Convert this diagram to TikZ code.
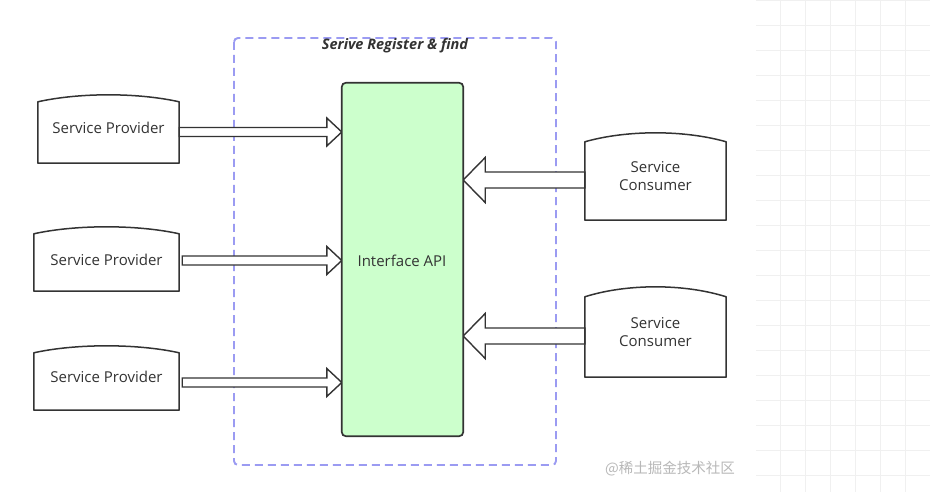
\documentclass[tikz,border=0pt]{standalone}
\usepackage{fontspec}
\setmainfont{Open Sans}
\newfontfamily\cjk{Noto Sans CJK SC}
\usetikzlibrary{calc}
\definecolor{ink}{HTML}{333333}
\definecolor{apifill}{HTML}{CCFFCC}
\definecolor{lav}{HTML}{9B9BF2}
\definecolor{gridc}{HTML}{F0F0F0}
\definecolor{wm}{HTML}{B8B8B8}
\tikzset{
  shp/.style={draw=ink, line width=1.5pt, fill=white, line join=round},
  lbl/.style={inner sep=0pt, text=ink, font=\fontsize{15}{18}\selectfont, align=center},
  holder/.style={inner sep=0pt},
  fatR/.style={draw=ink, line width=1.4pt, fill=white, line join=miter,
    to path={let \p1=(\tikztostart), \p2=(\tikztotarget) in
      (\x1,\y1+4.5pt) -- (\x2-15pt,\y1+4.5pt) -- (\x2-15pt,\y1+14pt) -- (\x2,\y1)
      -- (\x2-15pt,\y1-14pt) -- (\x2-15pt,\y1-4.5pt) -- (\x1,\y1-4.5pt) -- cycle}},
  fatL/.style={draw=ink, line width=1.4pt, fill=white, line join=miter,
    to path={let \p1=(\tikztostart), \p2=(\tikztotarget) in
      (\x1,\y1+8pt) -- (\x2+22pt,\y1+8pt) -- (\x2+22pt,\y1+22.5pt) -- (\x2,\y1)
      -- (\x2+22pt,\y1-22.5pt) -- (\x2+22pt,\y1-8pt) -- (\x1,\y1-8pt) -- cycle}},
}
\newcommand\cardshape[3]{% node, bulge (px), control half-offset
  \draw[shp] (#1.south west) -- ([yshift=-#2pt]#1.north west)
    .. controls +(#3,-1.33*#2) and +(-#3,-1.33*#2) .. ([yshift=-#2pt]#1.north east)
    -- (#1.south east) -- cycle;}
\begin{document}
\begin{tikzpicture}[x=1pt,y=-1pt]
\useasboundingbox (0,0) rectangle (930,492);
\fill[white] (0,0) rectangle (930,492);
% faint grid on the right
\foreach \gx in {780,805,...,930} \draw[gridc, line width=0.8pt] (\gx,0) -- (\gx,492);
\foreach \gy in {0,25,...,492} \draw[gridc, line width=0.8pt] (756,\gy) -- (930,\gy);
% register frame
\draw[lav, line width=1.9pt, dash pattern=on 8pt off 5pt, rounded corners=4pt]
  (234,38) rectangle (556,465);
\node[lbl, font=\fontsize{14.5}{16}\selectfont\bfseries\itshape] (title) at (395,46) {Serive Register \& find};
% shape holders
\node[holder, minimum width=141pt, minimum height=68pt] (p1) at (108.5,129) {};
\node[holder, minimum width=145pt, minimum height=64pt] (p2) at (106.5,259) {};
\node[holder, minimum width=145pt, minimum height=64pt] (p3) at (106.5,378) {};
\node[holder, minimum width=141pt, minimum height=87pt] (c1) at (655.5,176.5) {};
\node[holder, minimum width=141pt, minimum height=90pt] (c2) at (655.5,332) {};
\node[holder, minimum width=121pt, minimum height=353pt] (api) at (402.5,259.5) {};
% shapes
\cardshape{p1}{7}{42}
\cardshape{p2}{7}{42}
\cardshape{p3}{7}{42}
\cardshape{c1}{9}{42}
\cardshape{c2}{10}{42}
\node[lbl] (p1t) at (108.5,128) {Service Provider};
\node[lbl] (p2t) at (106.5,259.5) {Service Provider};
\node[lbl] (p3t) at (106.5,377) {Service Provider};
\node[lbl] (c1t) at (655.5,176) {Service\\Consumer};
\node[lbl] (c2t) at (655.5,332.5) {Service\\Consumer};
% arrows
\draw[fatR] ([yshift=-3pt]p1.east) to (api.west);
\draw[fatR] ([xshift=3pt,yshift=-1.5pt]p2.east) to (api.west);
\draw[fatR] ([xshift=3pt,yshift=-4.5pt]p3.east) to (api.west);
\draw[fatL] ([yshift=-3.5pt]c1.west) to (api.east);
\draw[fatL] ([yshift=-4pt]c2.west) to (api.east);
% API box
\draw[draw=ink, line width=1.7pt, fill=apifill, rounded corners=4pt] (api.north west) rectangle (api.south east);
\node[lbl] (apit) at (402,261) {Interface API};
% watermark
\node[inner sep=0pt, text=wm, font=\cjk\fontsize{14.5}{16}\selectfont] (wmk) at (670,469) {@稀土掘金技术社区};
\end{tikzpicture}
\end{document}
